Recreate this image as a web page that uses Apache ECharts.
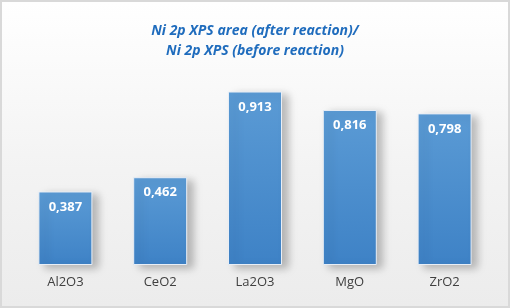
<!DOCTYPE html>
<html>
<head>
<meta charset="utf-8">
<script src="https://cdn.jsdelivr.net/npm/echarts@6/dist/echarts.min.js"></script>
<style>
html, body { margin: 0; padding: 0; }
#chart {
	width: 510px; height: 308px; box-sizing: border-box;
	border: 2px solid #d9d9d9;
	background: linear-gradient(to bottom, #ffffff 0%, #f3f3f3 55%, #ececec 100%);
}
</style>
</head>
<body>
<div id="chart"></div>
<script>
var categories = ['Al2O3', 'CeO2', 'La2O3', 'MgO', 'ZrO2'];
var values = [0.387, 0.462, 0.913, 0.816, 0.798];
var titleLines = ['Ni 2p XPS area (after reaction)/', 'Ni 2p XPS (before reaction)'];

var dom = document.getElementById('chart');
var myChart = echarts.init(dom);

var option = {
	animation: false,
	title: {
		text: titleLines.join('\n'),
		left: 'center',
		top: 14,
		textStyle: {
			color: '#1f6cbd',
			fontFamily: 'Open Sans',
			fontStyle: 'italic',
			fontWeight: 'bold',
			fontSize: 14,
			lineHeight: 20
		}
	},
	grid: { left: 16, right: 16, top: 73, bottom: 41 },
	xAxis: {
		type: 'category',
		data: categories,
		axisLine: { show: false },
		axisTick: { show: false },
		axisLabel: {
			color: '#404040',
			fontFamily: 'Open Sans',
			fontSize: 13,
			margin: 11
		}
	},
	yAxis: {
		type: 'value',
		min: 0,
		max: 1,
		show: false,
		splitLine: { show: false }
	},
	series: [{
		type: 'bar',
		data: values,
		barWidth: 54,
		itemStyle: {
			color: new echarts.graphic.LinearGradient(0, 0, 0, 1, [
				{ offset: 0, color: '#5b9bd5' },
				{ offset: 1, color: '#3e82c6' }
			]),
			borderColor: '#e8eef6',
			borderWidth: 1,
			shadowColor: 'rgba(0,0,0,0.25)',
			shadowBlur: 8,
			shadowOffsetX: 6,
			shadowOffsetY: 3
		},
		label: {
			show: true,
			position: 'insideTop',
			distance: 9,
			color: '#ffffff',
			fontFamily: 'Open Sans',
			fontWeight: 'bold',
			fontSize: 13,
			formatter: function (p) {
				return p.value.toFixed(3).replace('.', ',');
			}
		}
	}]
};
myChart.setOption(option);
</script>
</body>
</html>
